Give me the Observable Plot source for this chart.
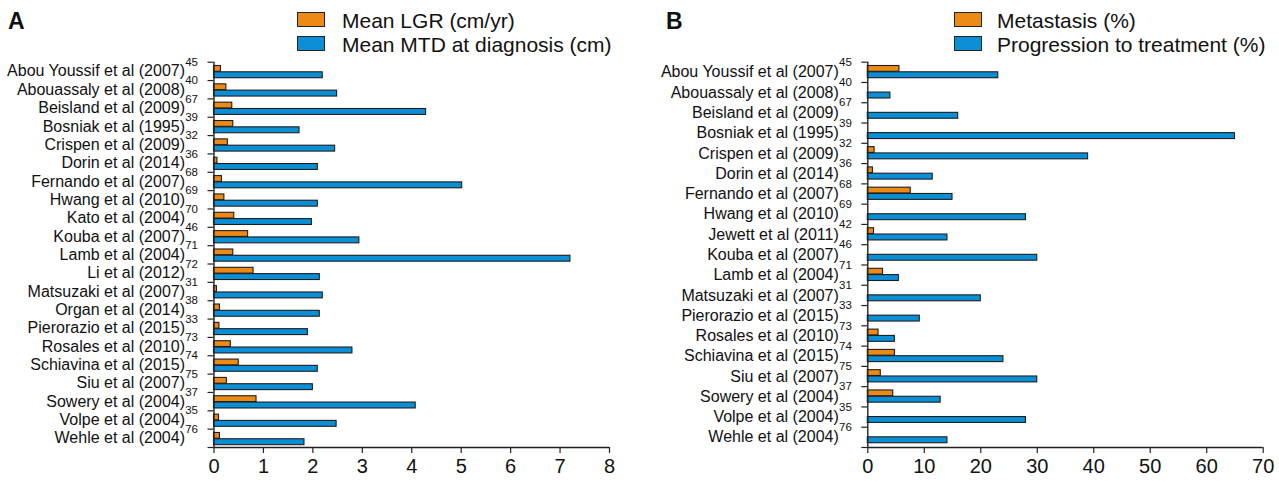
<!DOCTYPE html>
<html>
<head>
<meta charset="utf-8">
<script src="https://cdn.jsdelivr.net/npm/d3@7"></script>
<script src="https://cdn.jsdelivr.net/npm/@observablehq/plot@0.6"></script>
<style>
  html, body { margin: 0; padding: 0; background: #fff; }
  #wrap { position: relative; width: 1279px; height: 482px; overflow: hidden; font-family: "Liberation Sans", Arial, sans-serif; color: #111; }
  .panel { position: absolute; top: 0; }
  .letter { position: absolute; font-weight: bold; font-size: 23px; line-height: 1; }
  .lg { position: absolute; font-size: 21px; line-height: 1; white-space: nowrap; }
  .sw { position: absolute; width: 26px; height: 13px; border: 1.5px solid #222; }
</style>
</head>
<body>
<div id="wrap">
  <div class="letter" style="left:8px; top:10px;">A</div>
  <div class="letter" style="left:666px; top:10px;">B</div>
  <div id="legA"></div>
  <div id="legB"></div>
  <div id="panelA" class="panel" style="left:0px;"></div>
  <div id="panelB" class="panel" style="left:640px;"></div>
</div>
<script>
// ---------- Panel A data ----------
const namesA = ["Abou Youssif et al (2007)", "Abouassaly et al (2008)", "Beisland et al (2009)", "Bosniak et al (1995)",
  "Crispen et al (2009)", "Dorin et al (2014)", "Fernando et al (2007)", "Hwang et al (2010)", "Kato et al (2004)",
  "Kouba et al (2007)", "Lamb et al (2004)", "Li et al (2012)", "Matsuzaki et al (2007)", "Organ et al (2014)",
  "Pierorazio et al (2015)", "Rosales et al (2010)", "Schiavina et al (2015)", "Siu et al (2007)", "Sowery et al (2004)",
  "Volpe et al (2004)", "Wehle et al (2004)"];
const refsA = ["45", "40", "67", "39", "32", "36", "68", "69", "70", "46", "71", "72", "31", "38", "33", "73", "74", "75", "37", "35", "76"];
const lgrA = [0.14, 0.25, 0.37, 0.39, 0.28, 0.07, 0.16, 0.21, 0.41, 0.69, 0.39, 0.80, 0.06, 0.12, 0.11, 0.34, 0.50, 0.26, 0.86, 0.10, 0.12];
const mtdA = [2.20, 2.49, 4.29, 1.73, 2.45, 2.10, 5.02, 2.10, 1.98, 2.94, 7.21, 2.14, 2.20, 2.14, 1.90, 2.80, 2.10, 2.00, 4.08, 2.48, 1.83];
const xTicksA = [0, 1, 2, 3, 4, 5, 6, 7, 8];
const legendA = ["Mean LGR (cm/yr)", "Mean MTD at diagnosis (cm)"];

// ---------- Panel B data ----------
const namesB = ["Abou Youssif et al (2007)", "Abouassaly et al (2008)", "Beisland et al (2009)", "Bosniak et al (1995)",
  "Crispen et al (2009)", "Dorin et al (2014)", "Fernando et al (2007)", "Hwang et al (2010)", "Jewett et al (2011)",
  "Kouba et al (2007)", "Lamb et al (2004)", "Matsuzaki et al (2007)", "Pierorazio et al (2015)", "Rosales et al (2010)",
  "Schiavina et al (2015)", "Siu et al (2007)", "Sowery et al (2004)", "Volpe et al (2004)", "Wehle et al (2004)"];
const refsB = ["45", "40", "67", "39", "32", "36", "68", "69", "42", "46", "71", "31", "33", "73", "74", "75", "37", "35", "76"];
const metaB = [5.6, null, null, null, 1.2, 0.9, 7.6, null, 1.1, null, 2.7, null, null, 1.9, 4.8, 2.3, 4.5, null, null];
const progB = [23.1, 4.0, 16.0, 65.0, 39.0, 11.5, 15.0, 28.0, 14.1, 30.0, 5.5, 20.0, 9.2, 4.8, 24.0, 30.0, 12.9, 28.0, 14.1];
const xTicksB = [0, 10, 20, 30, 40, 50, 60, 70];
const legendB = ["Metastasis (%)", "Progression to treatment (%)"];

const colors = ["#ED8A16", "#0A8FD6"];
const font = '"Liberation Sans", Arial, sans-serif';

function legend(el, labels, swLeft, textLeft) {
  const tops = [12, 36];
  labels.forEach((t, k) => {
    const sw = document.createElement("div");
    sw.className = "sw";
    sw.style.left = swLeft + "px";
    sw.style.top = tops[k] + "px";
    sw.style.background = colors[k];
    el.appendChild(sw);
    const tx = document.createElement("div");
    tx.className = "lg";
    tx.style.left = textLeft + "px";
    tx.style.top = (tops[k] - 2) + "px";
    tx.textContent = t;
    el.appendChild(tx);
  });
}

function panel({names, refs, s1, s2, xDomain, xTicks, width, marginLeft, marginRight}) {
  const n = names.length;
  const rows = names.map((name, i) => ({i, name, a: s1[i], b: s2[i]}));
  const marginTop = 61.7, marginBottom = 35, height = 482;
  const rowH = (height - marginTop - marginBottom) / n;
  return Plot.plot({
    width, height, marginLeft, marginRight, marginTop, marginBottom,
    style: {fontFamily: font, overflow: "visible", background: "transparent", color: "#111"},
    x: {domain: xDomain, label: null},
    y: {domain: [n, 0], label: null},
    marks: [
      Plot.rect(rows.filter(d => d.a != null), {
        x1: 0, x2: "a", y1: "i", y2: d => d.i + 1,
        insetTop: 3.8, insetBottom: rowH - 9.6,
        fill: colors[0], stroke: "#1e1e1e", strokeWidth: 1.1
      }),
      Plot.rect(rows, {
        x1: 0, x2: "b", y1: "i", y2: d => d.i + 1,
        insetTop: 10.1, insetBottom: rowH - 16,
        fill: colors[1], stroke: "#1e1e1e", strokeWidth: 1.1
      }),
      Plot.ruleX([0], {stroke: "#222", strokeWidth: 1.4}),
      Plot.ruleY([n], {stroke: "#222", strokeWidth: 1.4}),
      Plot.axisX({ticks: xTicks, tickSize: 6, tickPadding: 5, fontSize: 20, stroke: "#222", strokeWidth: 1.2}),
      Plot.axisY({ticks: d3.range(n + 1), tickFormat: i => refs[i] ?? "", tickSize: 6, tickPadding: 10, fontSize: 11.5, stroke: "#222", strokeWidth: 1.2}),
      Plot.axisY({ticks: d3.range(n).map(i => i + 0.5), tickFormat: v => names[Math.floor(v)], tickSize: 0, tickPadding: 29, fontSize: 16})
    ]
  });
}

legend(document.getElementById("legA"), legendA, 297, 342);
legend(document.getElementById("legB"), legendB, 954, 997);

document.getElementById("panelA").appendChild(panel({
  names: namesA, refs: refsA, s1: lgrA, s2: mtdA, xDomain: [0, 8], xTicks: xTicksA,
  width: 640, marginLeft: 213.5, marginRight: 31
}));
document.getElementById("panelB").appendChild(panel({
  names: namesB, refs: refsB, s1: metaB, s2: progB, xDomain: [0, 70], xTicks: xTicksB,
  width: 639, marginLeft: 227.3, marginRight: 16.3
}));
</script>
</body>
</html>
